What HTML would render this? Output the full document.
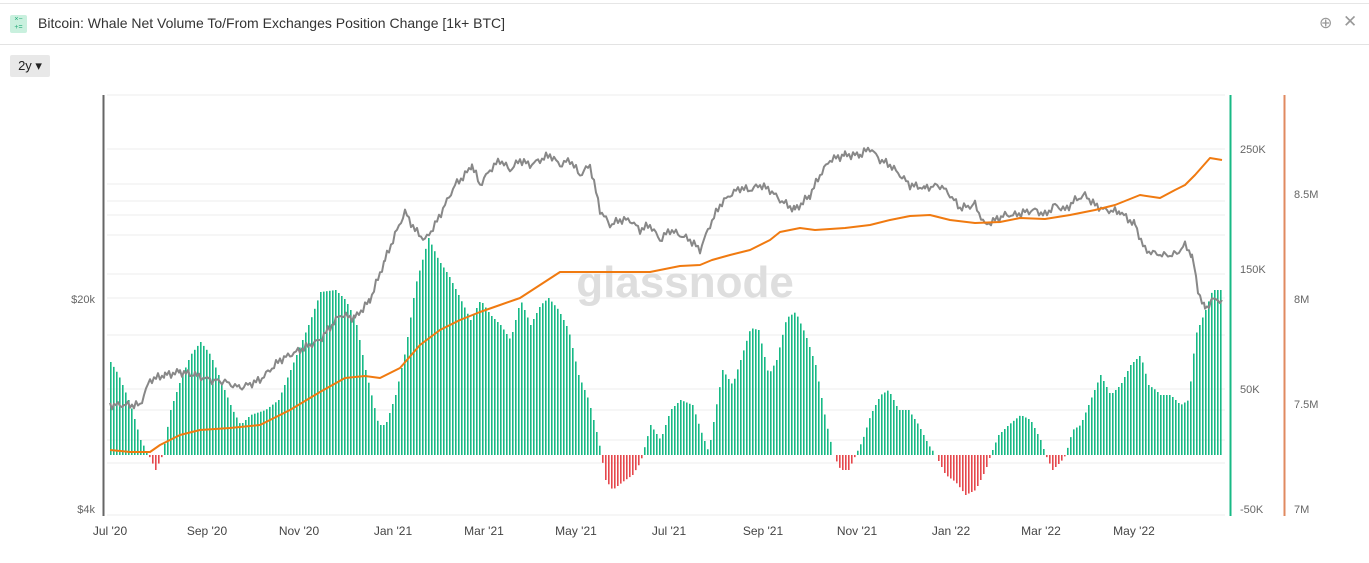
<!DOCTYPE html>
<html><head><meta charset="utf-8"><style>
body{margin:0;width:1369px;height:563px;background:#fff;font-family:"Liberation Sans",sans-serif;overflow:hidden;position:relative}
.hdr{position:absolute;left:0;top:3px;width:1369px;height:40px;border-top:1px solid #e6e6e6;border-bottom:1px solid #e3e3e3}
.ic{position:absolute;left:10px;top:11px;width:17px;height:18px;background:#c9f0de;border-radius:2px;font-size:7px;line-height:8px;color:#2a7;text-align:center;padding-top:1px;box-sizing:border-box}
.tt{position:absolute;left:38px;top:11px;font-size:14px;color:#333}
.btn{position:absolute;left:10px;top:55px;width:40px;height:22px;background:#e8e8e8;border-radius:2px;font-size:13px;line-height:22px;text-align:center;color:#222}
svg{position:absolute;left:0;top:0}
</style></head><body>
<div class="hdr"><div class="ic">×−<br>+=</div><div class="tt">Bitcoin: Whale Net Volume To/From Exchanges Position Change [1k+ BTC]</div>
<div style="position:absolute;left:1319px;top:9px;font-size:16px;color:#999">⊕</div><div style="position:absolute;left:1343px;top:8px;font-size:17px;color:#999">✕</div></div>
<div class="btn">2y ▾</div>
<svg id="s" width="1369" height="563" xmlns="http://www.w3.org/2000/svg"></svg>
<script>
const s=document.getElementById('s');let h='';
[95,149,184,201,215,235,274,298,335,389,410,440,463,515].forEach(y=>h+=`<line x1="107" x2="1225" y1="${y}" y2="${y}" stroke="#ececec"/>`);
h+=`<text x="685" y="297" font-size="44" fill="#dedede" text-anchor="middle" font-family="Liberation Sans" font-weight="bold">glassnode</text>`;
function interp(p,x){for(let i=0;i<p.length-1;i+=2){if(x>=p[i]&&x<=p[i+2]){let t=(x-p[i])/(p[i+2]-p[i]||1);return p[i+1]+t*(p[i+3]-p[i+1]);}}return p[p.length-1];}
const B=[110,362,118,375,130,405,140,440,148,455,155,470,162,455,170,410,180,380,190,355,200,342,210,355,220,380,232,410,240,425,250,415,265,410,278,400,290,370,300,345,310,320,320,292,335,290,345,300,355,320,365,370,378,425,385,425,395,395,405,350,415,285,428,238,438,260,448,275,458,295,470,320,480,300,490,315,500,325,510,340,520,300,530,325,540,305,548,298,558,310,568,330,578,375,588,400,598,440,605,480,612,490,622,482,632,475,640,462,650,425,660,440,670,410,680,400,692,405,700,430,708,452,715,410,722,370,732,385,740,360,750,328,758,330,768,375,776,360,786,318,795,312,805,335,815,365,825,420,833,455,840,470,848,470,855,455,862,440,870,415,880,395,888,390,898,410,908,410,918,425,928,445,935,455,945,475,955,482,965,495,975,490,985,470,990,455,998,435,1008,425,1020,415,1030,420,1040,440,1045,455,1052,470,1060,462,1065,455,1072,430,1080,425,1090,400,1100,375,1110,395,1120,385,1130,365,1140,355,1148,385,1155,390,1160,395,1170,395,1180,405,1188,400,1195,335,1205,310,1212,290,1220,290,1222,300];
for(let x=110;x<=1222;x+=3){let y=interp(B,x);let c=y>455?'#e5484d':'#17b985';let y1=Math.min(y,455),hh=Math.abs(y-455);h+=`<rect x="${x}" y="${y1}" width="1.6" height="${hh}" fill="${c}"/>`;}
function path(p,c,w){let d='';for(let i=0;i<p.length;i+=2)d+=(i?'L':'M')+p[i]+' '+p[i+1];return `<path d="${d}" fill="none" stroke="${c}" stroke-width="${w}" stroke-linejoin="round"/>`;}
const P=[110,405,120,405,140,405,150,380,165,375,180,372,195,375,210,380,225,382,240,388,260,380,280,360,300,350,320,340,340,315,355,318,370,300,385,260,395,235,405,212,415,230,425,240,435,225,445,205,455,185,465,175,472,165,480,185,490,170,500,160,510,170,520,160,530,165,540,160,550,155,560,165,570,160,580,175,590,165,600,210,610,225,620,220,630,220,640,230,650,225,660,240,670,230,680,235,690,240,700,250,710,225,720,205,730,195,740,188,750,190,760,185,770,190,780,200,795,210,810,195,820,175,830,160,845,155,860,155,870,148,880,160,890,165,900,175,910,185,925,188,940,185,950,195,960,208,975,205,985,225,995,220,1005,215,1015,215,1025,212,1035,210,1045,215,1055,205,1065,210,1075,200,1085,195,1095,205,1105,210,1120,212,1135,225,1145,250,1160,255,1175,255,1185,245,1192,255,1198,290,1205,310,1212,300,1222,300];
let Pj=[];for(let i=0;i<P.length-2;i+=2){for(let x=P[i];x<P[i+2];x+=2){Pj.push(x,interp(P,x)+(Math.sin(x*1.7)*2.5+Math.sin(x*0.63)*2));}}Pj.push(1222,300);
h+=path(Pj,'#888',2);
const O=[110,450,130,452,150,452,160,445,180,435,200,430,230,428,260,425,290,410,320,392,345,378,365,376,380,378,400,368,420,345,440,330,460,320,480,312,500,305,520,298,540,285,560,272,580,272,600,272,620,272,650,272,680,266,700,265,712,260,730,255,750,250,770,240,780,232,800,228,815,230,845,228,870,225,890,220,910,216,930,215,950,220,975,223,1000,222,1020,218,1045,219,1070,215,1095,210,1115,205,1140,195,1160,198,1175,190,1185,185,1195,175,1210,158,1222,160];
h+=path(O,'#f07a10',2);
h+=`<line x1="103.5" x2="103.5" y1="95" y2="516" stroke="#666" stroke-width="2"/>`;
h+=`<line x1="1230.5" x2="1230.5" y1="95" y2="516" stroke="#17b985" stroke-width="2"/>`;
h+=`<line x1="1284.5" x2="1284.5" y1="95" y2="516" stroke="#e08a60" stroke-width="2"/>`;
const T=(x,y,t,a)=>h+=`<text x="${x}" y="${y}" font-size="11" fill="#666" text-anchor="${a||'start'}" font-family="Liberation Sans">${t}</text>`;
T(95,303,'$20k','end');T(95,513,'$4k','end');
[['250K',153],['150K',273],['50K',393],['-50K',513]].forEach(a=>T(1240,a[1],a[0]));
[['8.5M',198],['8M',303],['7.5M',408],['7M',513]].forEach(a=>T(1294,a[1],a[0]));
[["Jul '20",110],["Sep '20",207],["Nov '20",299],["Jan '21",393],["Mar '21",484],["May '21",576],["Jul '21",669],["Sep '21",763],["Nov '21",857],["Jan '22",951],["Mar '22",1041],["May '22",1134]].forEach(a=>{h+=`<text x="${a[1]}" y="535" font-size="12" fill="#444" text-anchor="middle" font-family="Liberation Sans">${a[0]}</text>`;});
s.innerHTML=h;
</script>
</body></html>
